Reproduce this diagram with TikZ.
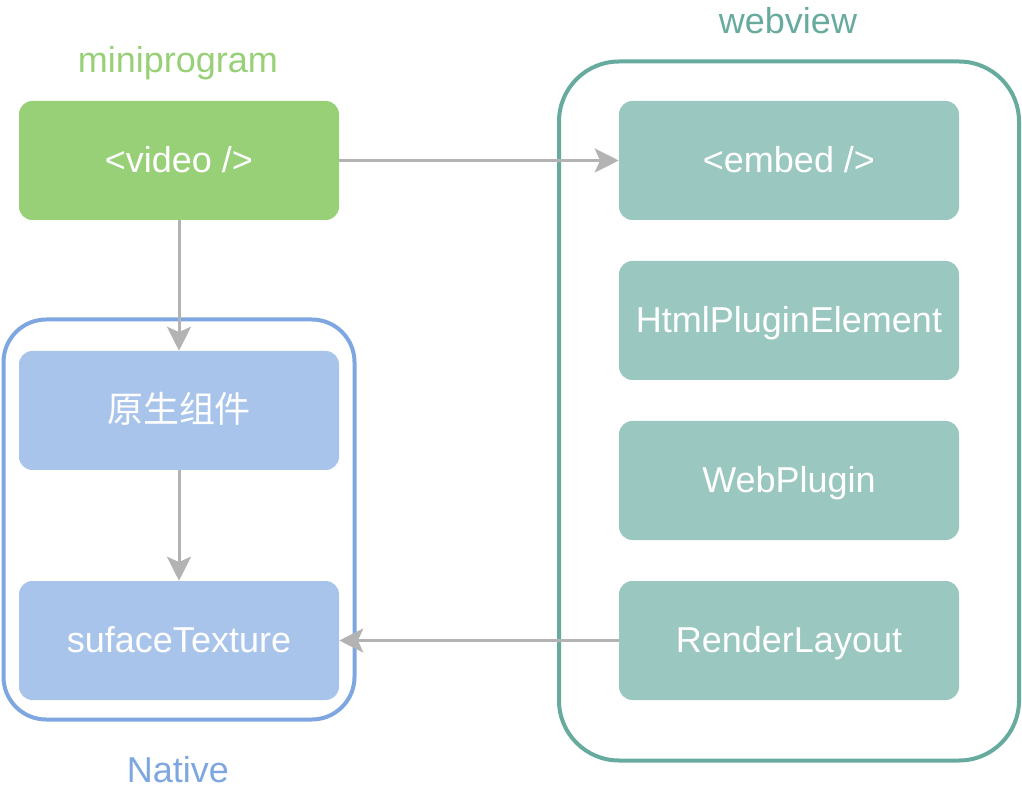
\documentclass[tikz,border=0pt]{standalone}
\usepackage{fontspec}
\setmainfont{Liberation Sans}
\newfontfamily\cjk{Noto Sans CJK SC}
\usetikzlibrary{arrows.meta}
\definecolor{minigreen}{HTML}{97D077}
\definecolor{webteal}{HTML}{9AC7BF}
\definecolor{webline}{HTML}{67AB9F}
\definecolor{nativeblue}{HTML}{A9C4EB}
\definecolor{nativeline}{HTML}{7EA6E0}
\definecolor{arrowgray}{HTML}{B3B3B3}

\begin{document}
\begin{tikzpicture}[x=0.75pt, y=-0.75pt,
    box/.style={text=white, rounded corners=10pt, inner sep=0pt,
                font=\fontsize{27}{32}\selectfont,
                text height=18pt, text depth=0pt,
                minimum width=240pt, minimum height=89.25pt},
    group/.style={line width=3pt, rounded corners=#1, inner sep=0pt},
    label/.style={font=\fontsize{27}{32}\selectfont, inner sep=0pt,
                  text height=18pt, text depth=0pt},
    flow/.style={-{Stealth[length=18pt, width=18pt, inset=4pt]},
                 line width=2.25pt, arrowgray}]
  \useasboundingbox (0,0) rectangle (1022,802);

  % containers
  \node[group=45pt, draw=webline, minimum width=345pt, minimum height=524.25pt]
    (webview) at (789,411) {};
  \node[group=32pt, draw=nativeline, minimum width=263.25pt, minimum height=300pt]
    (native) at (179,519.5) {};

  % labels
  \node[label, text=minigreen] (minilbl) at (178,60.3) {miniprogram};
  \node[label, text=webline] (weblbl) at (788,21.3) {webview};
  \node[label, text=nativeline] (nativelbl) at (178,770.3) {Native};

  % boxes
  \node[box, fill=minigreen] (video) at (179,160.5) {<video />};
  \foreach \y/\nm/\lbl in {
      160.5/embed/{<embed />},
      320.5/html/{HtmlPluginElement},
      480.5/plugin/{WebPlugin},
      640.5/render/{RenderLayout}}{
    \node[box, fill=webteal, minimum width=255pt] (\nm) at (789,\y) {\lbl};
  }
  \node[box, fill=nativeblue] (comp) at (179,410.5) {\cjk 原生组件};
  \node[box, fill=nativeblue] (suface) at (179,640.5) {sufaceTexture};

  % arrows
  \draw[flow] (video.east) -- (embed.west);
  \draw[flow] (video.south) -- (comp.north);
  \draw[flow] (comp.south) -- (suface.north);
  \draw[flow] (render.west) -- (suface.east);
\end{tikzpicture}
\end{document}
